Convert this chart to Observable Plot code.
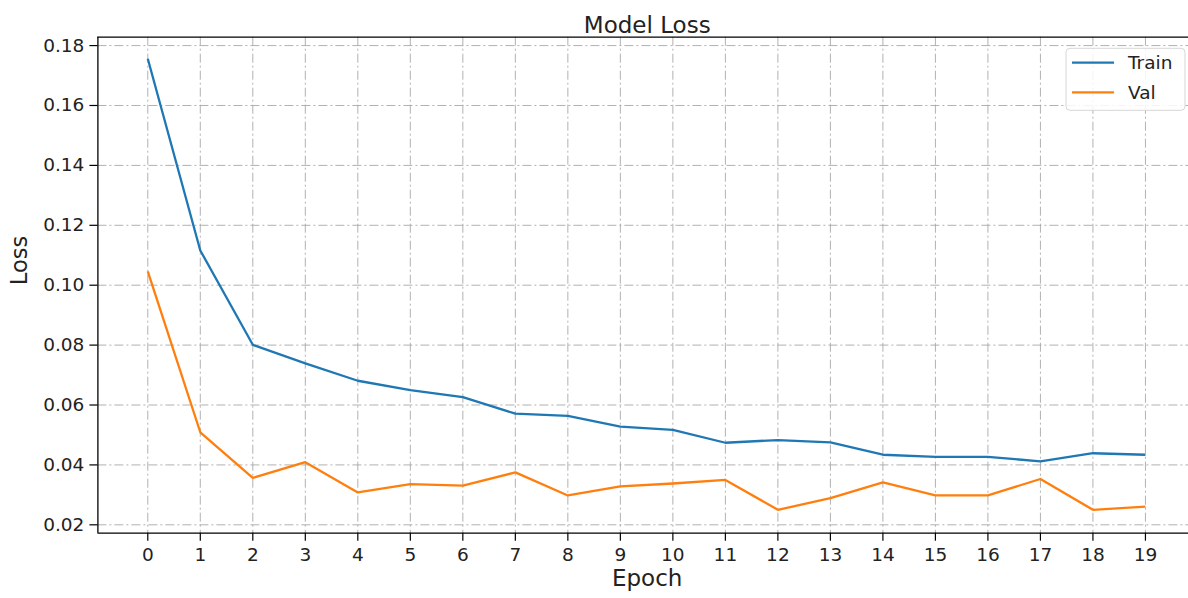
<!DOCTYPE html>
<html>
<head>
<meta charset="utf-8">
<script src="https://cdn.jsdelivr.net/npm/d3@7"></script>
<script src="https://cdn.jsdelivr.net/npm/@observablehq/plot@0.6"></script>
<style>
  html, body { margin: 0; padding: 0; background: #fff; overflow: hidden; }
</style>
</head>
<body>
<div id="chart"></div>
<script>
const epochs = [0,1,2,3,4,5,6,7,8,9,10,11,12,13,14,15,16,17,18,19];
const trainLoss = [0.1756,0.1116,0.0801,0.0739,0.0681,0.0650,0.0626,0.0571,0.0564,0.0528,0.0517,0.0474,0.0483,0.0475,0.0434,0.0427,0.0427,0.0412,0.0439,0.0434];
const valLoss = [0.1046,0.0509,0.0357,0.0409,0.0308,0.0336,0.0331,0.0375,0.0298,0.0328,0.0338,0.0350,0.0250,0.0289,0.0342,0.0298,0.0298,0.0353,0.0250,0.0261];
const seriesNames = ["Train", "Val"];
const seriesColors = ["#1f77b4", "#ff7f0e"];
const yTicks = [0.02,0.04,0.06,0.08,0.10,0.12,0.14,0.16,0.18];
const xTicks = epochs;
const titleText = "Model Loss";
const xLabel = "Epoch";
const yLabel = "Loss";

const xDomain = [-0.95, 19.82];
const yDomain = [0.0172, 0.1828];

const rows = [];
epochs.forEach((e, i) => {
  rows.push({epoch: e, loss: trainLoss[i], series: seriesNames[0]});
  rows.push({epoch: e, loss: valLoss[i], series: seriesNames[1]});
});

const font = "'DejaVu Sans', sans-serif";
const gridStyle = {stroke: "#a8a8a8", strokeOpacity: 0.9, strokeWidth: 1, strokeDasharray: "9,3,2,3"};

const svg = Plot.plot({
  width: 1188,
  height: 598,
  marginLeft: 97.4,
  marginRight: 0,
  marginTop: 36.7,
  marginBottom: 65.3,
  style: {fontFamily: font, fontSize: "18.5px", color: "#222", background: "#fff", overflow: "visible"},
  x: {domain: xDomain},
  y: {domain: yDomain},
  color: {domain: seriesNames, range: seriesColors},
  marks: [
    Plot.gridX(xTicks, gridStyle),
    Plot.gridY(yTicks, gridStyle),
    Plot.line(rows, {x: "epoch", y: "loss", z: "series", stroke: "series", strokeWidth: 2.3, strokeLinejoin: "round", strokeLinecap: "butt"}),
    Plot.ruleX([xDomain[0]], {stroke: "#000", strokeWidth: 1.3}),
    Plot.ruleY([yDomain[0], yDomain[1]], {stroke: "#000", strokeWidth: 1.3}),
    Plot.axisX({ticks: xTicks, tickSize: 8, tickPadding: 7, label: null, fontSize: 18.5, stroke: "#000", fill: "#222", strokeWidth: 1.2}),
    Plot.axisY({ticks: yTicks, tickSize: 8, tickPadding: 5.5, label: null, tickFormat: d3.format(".2f"), fontSize: 18.5, stroke: "#000", fill: "#222", strokeWidth: 1.2}),
    Plot.text([titleText], {frameAnchor: "top", dy: -20.5, dx: 4, fontSize: 23, fill: "#222"}),
    Plot.text([xLabel], {frameAnchor: "bottom", dy: 52.5, dx: 4, fontSize: 23, fill: "#222"}),
    Plot.text([yLabel], {frameAnchor: "left", dx: -78, rotate: -90, fontSize: 22.5, fill: "#222"})
  ]
});

// Legend (upper right)
const lg = d3.select(svg).append("g").attr("font-family", font).attr("font-size", 18.5);
lg.append("rect")
  .attr("x", 1066).attr("y", 48.3).attr("width", 119).attr("height", 62)
  .attr("rx", 4).attr("ry", 4)
  .attr("fill", "#fff").attr("fill-opacity", 0.85)
  .attr("stroke", "#d6d6d6").attr("stroke-width", 1);
seriesNames.forEach((name, i) => {
  const cy = 62.7 + i * 29.6;
  lg.append("line")
    .attr("x1", 1072).attr("x2", 1114).attr("y1", cy).attr("y2", cy)
    .attr("stroke", seriesColors[i]).attr("stroke-width", 2.3);
  lg.append("text")
    .attr("x", 1128).attr("y", cy).attr("dy", "0.36em")
    .attr("text-anchor", "start")
    .attr("fill", "#222").text(name);
});

document.getElementById("chart").appendChild(svg);
</script>
</body>
</html>
